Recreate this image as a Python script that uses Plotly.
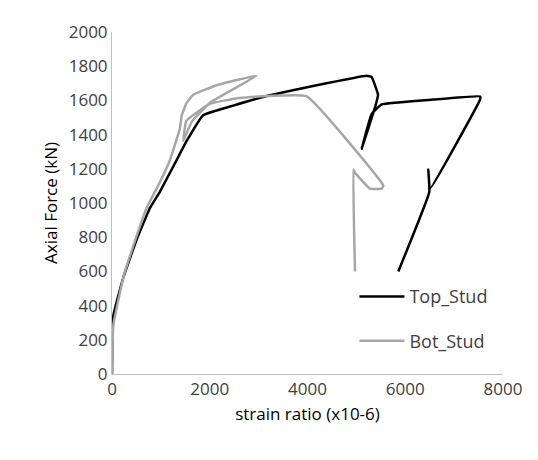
import plotly.graph_objects as go

# strain (x10-6) and axial force (kN)
top_strain = [0, 27, 230, 505, 778, 982, 1323, 1528, 1865, 2480, 3165, 4188, 5211, 5313, 5443,
              5381, 5108, 5313, 5518, 6574, 7530, 7530, 6506, 6472, 6492, 5858]
top_force = [0, 340, 563, 787, 972, 1067, 1252, 1363, 1514, 1570, 1626, 1689, 1745, 1737, 1633,
             1559, 1318, 1521, 1577, 1605, 1624, 1605, 1084, 1196, 1065, 600]

bot_strain = [0, 27, 230, 436, 710, 982, 1187, 1391, 1426, 1528, 1663, 2142, 2960, 2005, 1630,
              1459, 1520, 2000, 2600, 3984, 5552, 5518, 5279, 4972, 4938, 4972]
bot_force = [0, 285, 563, 749, 972, 1123, 1252, 1438, 1512, 1587, 1633, 1689, 1745, 1587, 1475,
             1363, 1480, 1580, 1615, 1624, 1102, 1084, 1084, 1177, 1196, 600]

fig = go.Figure()
fig.add_trace(go.Scatter(x=top_strain, y=top_force, mode="lines", name="Top_Stud", legendgroup="top",
                         line=dict(color="black", width=2.5, shape="spline", smoothing=0.3)))
fig.add_trace(go.Scatter(x=bot_strain, y=bot_force, mode="lines", name="Bot_Stud", legendgroup="bot",
                         line=dict(color="#a6a6a6", width=2.5, shape="spline", smoothing=0.3)))

axis_style = dict(showgrid=False, zeroline=False, showline=True, linecolor="#bfbfbf",
                  linewidth=1, ticks="", tickfont=dict(size=17, color="#404040"))
fig.update_xaxes(range=[0, 8000], dtick=2000, title=dict(text="strain ratio (x10-6)",
                 font=dict(size=17, color="black"), standoff=8), **axis_style)
fig.update_yaxes(range=[0, 2000.5], dtick=200, title=dict(text="Axial Force (kN)",
                 font=dict(size=17, color="black"), standoff=6), **axis_style)

fig.update_layout(
    width=538, height=460,
    margin=dict(l=104, r=43, t=12, b=94),
    plot_bgcolor="white", paper_bgcolor="white",
    font=dict(family="Open Sans"),
    legend=dict(x=0.62, y=0.28, xanchor="left", yanchor="top", bgcolor="rgba(0,0,0,0)",
                font=dict(size=18, color="#404040"), tracegroupgap=18, itemwidth=45),
)

fig.write_html("out.html")
